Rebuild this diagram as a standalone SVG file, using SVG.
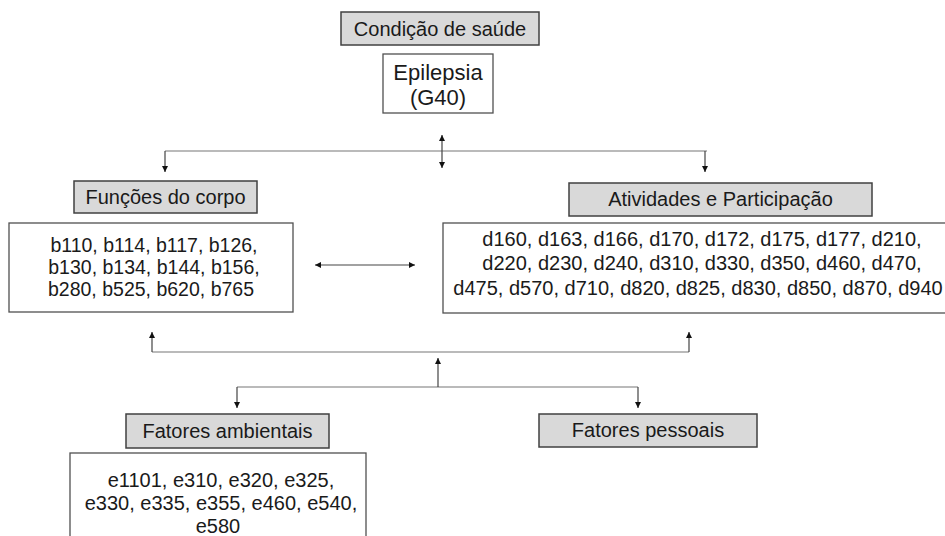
<svg xmlns="http://www.w3.org/2000/svg" width="945" height="536" viewBox="0 0 945 536">
<defs>
<marker id="ah" viewBox="0 0 10 10" refX="10" refY="5" markerWidth="6" markerHeight="7" markerUnits="userSpaceOnUse" orient="auto-start-reverse">
<path d="M0,0 L10,5 L0,10 z" fill="#111"/>
</marker>
<style>
.hdr{fill:#d9d9d9;stroke:#404040;stroke-width:1.5}
.box{fill:#fff;stroke:#505050;stroke-width:1.3}
text{font-family:"Liberation Sans",Arial,sans-serif;fill:#1a1a1a;text-anchor:middle}
.t20{font-size:20px}
.t19{font-size:19.5px}
.t22{font-size:22px}
.c{fill:none;stroke:#777;stroke-width:1.2}
.ca{fill:none;stroke:#444;stroke-width:1.2}
</style>
</defs>
<rect width="945" height="536" fill="#fff"/>
<g id="connectors">
<path class="c" d="M165,151 H707"/>
<path class="ca" d="M165,151 V172" marker-end="url(#ah)"/>
<path class="ca" d="M705,151 V172" marker-end="url(#ah)"/>
<path class="ca" d="M442,135 V168" marker-start="url(#ah)" marker-end="url(#ah)"/>
<path class="ca" d="M315,265 H415" marker-start="url(#ah)" marker-end="url(#ah)"/>
<path class="c" d="M152,352 H689"/>
<path class="ca" d="M152,352 V332" marker-end="url(#ah)"/>
<path class="ca" d="M689,352 V332" marker-end="url(#ah)"/>
<path class="c" d="M237,387 H638"/>
<path class="ca" d="M438,387 V358" marker-end="url(#ah)"/>
<path class="ca" d="M237,387 V408" marker-end="url(#ah)"/>
<path class="ca" d="M638,387 V408" marker-end="url(#ah)"/>
</g>
<g id="condicao">
<rect class="hdr" x="341" y="12" width="198" height="33"/>
<text class="t20" x="440" y="36">Condição de saúde</text>
</g>
<g id="epilepsia">
<rect class="box" x="383" y="54" width="110" height="59"/>
<text class="t22" x="438" y="80">Epilepsia</text>
<text class="t22" x="438" y="105">(G40)</text>
</g>
<g id="funcoes">
<rect class="hdr" x="74" y="181" width="183" height="32"/>
<text class="t20" x="165.5" y="204">Funções do corpo</text>
</g>
<g id="funcoes-codes">
<rect class="box" x="9" y="223" width="284" height="89"/>
<text class="t19" x="154" y="252">b110, b114, b117, b126,</text>
<text class="t19" x="154" y="274">b130, b134, b144, b156,</text>
<text class="t19" x="151" y="296">b280, b525, b620, b765</text>
</g>
<g id="atividades">
<rect class="hdr" x="569" y="183" width="303" height="33"/>
<text class="t20" x="720.5" y="206">Atividades e Participação</text>
</g>
<g id="atividades-codes">
<rect class="box" x="443" y="223" width="510" height="90"/>
<text class="t20" x="702" y="246">d160, d163, d166, d170, d172, d175, d177, d210,</text>
<text class="t20" x="702" y="270">d220, d230, d240, d310, d330, d350, d460, d470,</text>
<text class="t20" x="698" y="295">d475, d570, d710, d820, d825, d830, d850, d870, d940</text>
</g>
<g id="ambientais">
<rect class="hdr" x="126" y="414" width="203" height="34"/>
<text class="t20" x="227.5" y="438">Fatores ambientais</text>
</g>
<g id="ambientais-codes">
<rect class="box" x="70" y="453" width="296" height="90"/>
<text class="t20" x="221" y="487">e1101, e310, e320, e325,</text>
<text class="t20" x="221" y="510">e330, e335, e355, e460, e540,</text>
<text class="t20" x="218" y="533">e580</text>
</g>
<g id="pessoais">
<rect class="hdr" x="539" y="414" width="218" height="33"/>
<text class="t20" x="648" y="437">Fatores pessoais</text>
</g>
</svg>
